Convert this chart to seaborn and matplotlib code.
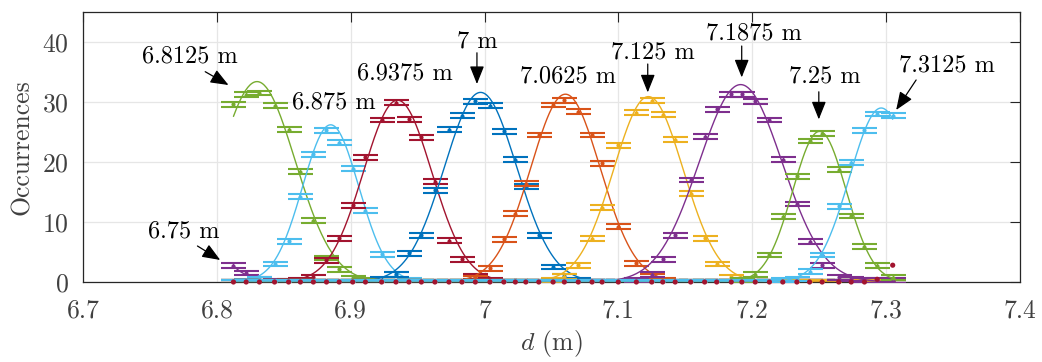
import numpy as np
import pandas as pd
import matplotlib
matplotlib.use("Agg")
import matplotlib.pyplot as plt
import seaborn as sns

# Histogram bin centres (m), shared by every distance series
bins = [6.8124, 6.8219, 6.8318, 6.8431, 6.8536, 6.8624, 6.8721, 6.8819, 6.8914, 6.9015,
        6.9110, 6.9231, 6.9338, 6.9435, 6.9528, 6.9629, 6.9734, 6.9831, 6.9931, 7.0040,
        7.0144, 7.0230, 7.0308, 7.0405, 7.0512, 7.0596, 7.0700, 7.0803, 7.0878, 7.0999,
        7.1134, 7.1249, 7.1331, 7.1424, 7.1540, 7.1644, 7.1734, 7.1843, 7.1922, 7.2022,
        7.2128, 7.2228, 7.2333, 7.2428, 7.2522, 7.2646, 7.2739, 7.2838, 7.2933, 7.3049]

# Occurrences per bin for each true distance
occ_6750 = [2.7, 1.5, 0.4, 0.1] + [0] * 46
occ_68125 = [29.6, 31.2, 31.5, 29.4, 25.4, 18.4, 10.2, 4.0, 2.1, 0.6, 0.2] + [0] * 39
occ_6875 = [0, 0.1, 0.5, 3.0, 6.8, 14.2, 21.3, 25.3, 23.2, 18.9, 11.9, 4.6, 1.2, 0.3] + [0] * 36
occ_69375 = [0, 0, 0, 0, 0.1, 0.3, 0.8, 3.6, 7.3, 12.8, 20.8, 27.0, 29.9, 27.1, 24.1, 16.7,
             6.9, 3.8, 0.9, 0.2] + [0] * 30
occ_7000 = [0] * 11 + [0.4, 1.3, 4.8, 7.8, 15.3, 25.4, 27.7, 30.1, 29.4, 25.1, 20.4, 15.9,
                      7.8, 2.5, 1.0, 0.3] + [0] * 23
occ_70625 = [0] * 18 + [0.6, 2.3, 7.1, 11.4, 16.4, 24.5, 29.5, 30.3, 28.4, 24.5, 19.8, 9.2,
                       3.1, 0.9, 0.3] + [0] * 17
occ_7125 = [0] * 24 + [0.3, 0.9, 2.8, 7.2, 12.4, 22.8, 28.2, 30.2, 27.9, 23.7, 14.7, 7.3,
                      3.0, 0.8, 0.2] + [0] * 11
occ_71875 = [0] * 30 + [0.3, 1.2, 3.8, 7.8, 17.0, 24.2, 28.8, 31.3, 31.3, 30.1, 27.0, 20.4,
                       13.0, 6.7, 2.8, 0.8, 0.5, 0.3, 0.2, 0.2]
occ_7250 = [0] * 38 + [0.3, 1.2, 4.5, 10.9, 17.6, 23.5, 24.7, 18.7, 11.0, 5.9, 2.7, 0.7]
occ_73125 = [0] * 41 + [0.2, 0.5, 1.7, 4.5, 12.6, 19.9, 25.3, 28.0, 27.7]
occ_7375 = [0] * 48 + [0.45, 2.8]

distances = [6.75, 6.8125, 6.875, 6.9375, 7.0, 7.0625, 7.125, 7.1875, 7.25, 7.3125]
series = [occ_6750, occ_68125, occ_6875, occ_69375, occ_7000,
          occ_70625, occ_7125, occ_71875, occ_7250, occ_73125]

# Gaussian fit of each histogram: amplitude, mean (m), standard deviation (m)
fit_amp = [32.0, 33.4, 26.2, 30.3, 31.6, 31.3, 30.9, 32.9, 25.1, 29.0]
fit_mu = [6.750, 6.830, 6.885, 6.935, 6.997, 7.0604, 7.1224, 7.1913, 7.2502, 7.2963]
fit_sigma = [0.028, 0.0285, 0.021, 0.0255, 0.027, 0.026, 0.026, 0.031, 0.020, 0.0235]

count_err = 0.4

# Labels: text, text position (d, count), arrow tail, arrow head (None = no arrow)
label_text = ["6.75 m", "6.8125 m", "6.875 m", "6.9375 m", "7 m",
              "7.0625 m", "7.125 m", "7.1875 m", "7.25 m", "7.3125 m"]
label_pos = [(6.7756, 8.42), (6.7801, 37.67), (6.8875, 29.9), (6.9401, 34.75), (6.9946, 40.1),
             (7.0622, 34.25), (7.1256, 38.33), (7.2012, 41.4), (7.2543, 34.33), (7.3457, 36.17)]
arrow_tail = [(6.7855, 6.0), (6.7913, 35.05), None, None, (6.9943, 38.2),
              None, (7.1219, 36.33), (7.1921, 39.33), (7.2497, 31.7), (7.3224, 33.67)]
arrow_head = [(6.8025, 3.67), (6.8087, 32.83), None, None, (6.9943, 33.0),
              None, (7.1219, 31.6), (7.1921, 34.1), (7.2497, 27.1), (7.3075, 28.67)]

palette = ["#7E2F8E", "#77AC30", "#4DBEEE", "#A2142F", "#0072BD",
           "#D95319", "#EDB120", "#7E2F8E", "#77AC30", "#4DBEEE"]
extra_color = "#A2142F"

sns.set_theme(style="white")
plt.rcParams["font.family"] = ["cmr10", "DejaVu Sans"]
plt.rcParams["mathtext.fontset"] = "cm"
plt.rcParams["axes.formatter.use_mathtext"] = True

W, H = 1042, 362
fig = plt.figure(figsize=(W / 100, H / 100), dpi=100)
ax = fig.add_axes([83 / W, 1 - 282 / H, (1020 - 83) / W, (282 - 12) / H])

x_dense = np.linspace(min(bins), max(bins), 600)
for i, (occ, col) in enumerate(zip(series, palette)):
    ax.errorbar(bins, occ, yerr=count_err, fmt=".", ms=4, color=col, ecolor=col,
                elinewidth=1.0, capsize=9, capthick=1.5, zorder=2 + i * 0.1)
    curve = fit_amp[i] * np.exp(-(x_dense - fit_mu[i]) ** 2 / (2 * fit_sigma[i] ** 2))
    df = pd.DataFrame({"d": x_dense, "n": curve})
    sns.lineplot(data=df, x="d", y="n", color=col, lw=1.0, ax=ax, zorder=2 + i * 0.1 + 0.05)

sns.scatterplot(x=bins, y=occ_7375, color=extra_color, s=14, edgecolor="none", ax=ax,
                zorder=5, clip_on=False)

for txt, pos, tail, head in zip(label_text, label_pos, arrow_tail, arrow_head):
    ax.text(pos[0], pos[1], txt, ha="center", va="center", fontsize=17.5, color="black", zorder=6)
    if tail is not None:
        ax.annotate("", xy=head, xytext=tail,
                    arrowprops=dict(arrowstyle="-|>,head_length=0.55,head_width=0.22",
                                    color="black", lw=0.9, shrinkA=0, shrinkB=0,
                                    mutation_scale=20), zorder=6)

ax.set_xlim(6.7, 7.4)
ax.set_ylim(0, 45)
ax.set_xticks([6.7, 6.8, 6.9, 7.0, 7.1, 7.2, 7.3, 7.4])
ax.set_xticklabels(["6.7", "6.8", "6.9", "7", "7.1", "7.2", "7.3", "7.4"])
ax.set_yticks([0, 10, 20, 30, 40])
ax.grid(True, color="#e6e6e6", lw=0.9)
ax.set_axisbelow(True)
for s in ax.spines.values():
    s.set_visible(True)
    s.set_color("#262626")
    s.set_linewidth(0.9)
ax.tick_params(direction="in", length=7, width=0.8, top=True, right=True,
               colors="#262626", labelcolor="#404040", labelsize=18.5)
ax.tick_params(axis="x", pad=12)
ax.tick_params(axis="y", pad=10)
ax.set_xlabel(r"$d$ (m)", fontsize=18.5, color="#404040", labelpad=4)
ax.set_ylabel("Occurrences", fontsize=18.5, color="#404040", labelpad=6)
ax.legend_ = None

fig.savefig("out.png", dpi=100)
